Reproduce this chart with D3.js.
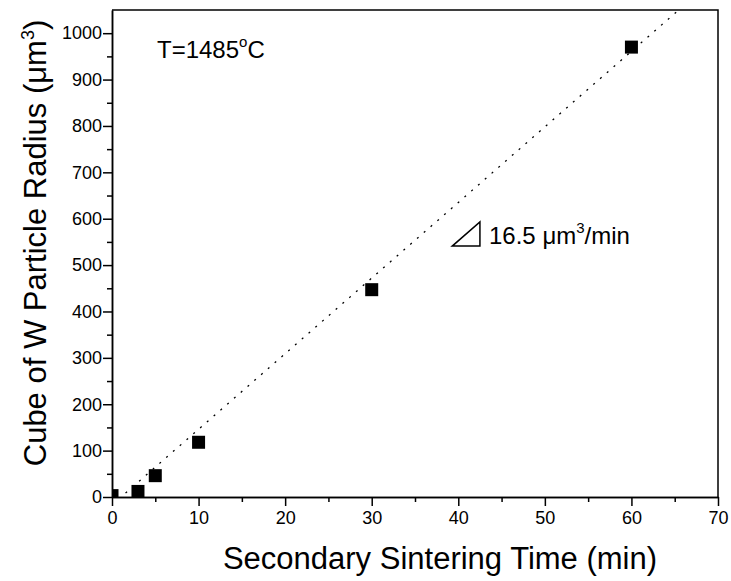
<!DOCTYPE html>
<html>
<head>
<meta charset="utf-8">
<script src="https://cdn.jsdelivr.net/npm/d3@7"></script>
<style>
  body { margin: 0; background: #fff; }
  svg { font-family: Arial, "Liberation Sans", sans-serif; }
</style>
</head>
<body>
<div id="chart"></div>
<script>
// Measured points: sintering time (min) vs cube of W particle radius (um^3)
var times = [0, 3, 5, 10, 30, 60];
var radiusCubed = [3, 12, 46, 118, 447, 970];

// Linear fit drawn as dotted line
var fitSlope = 16.3;
var fitIntercept = -17;

var xTickValues = [0, 10, 20, 30, 40, 50, 60, 70];
var xMinorValues = [5, 15, 25, 35, 45, 55, 65];
var yTickValues = [0, 100, 200, 300, 400, 500, 600, 700, 800, 900, 1000];
var yMinorValues = [50, 150, 250, 350, 450, 550, 650, 750, 850, 950];

var width = 731;
var height = 581;
var margin = {top: 10, right: 13, bottom: 84, left: 112};

var svg = d3.select("#chart")
    .append("svg")
    .attr("width", width)
    .attr("height", height);

var x = d3.scaleLinear()
    .domain([0, 70])
    .range([margin.left, width - margin.right]);

var y = d3.scaleLinear()
    .domain([0, 1050])
    .range([height - margin.bottom, margin.top]);

svg.append("clipPath")
    .attr("id", "plot-clip")
  .append("rect")
    .attr("x", x(0))
    .attr("y", y(1050))
    .attr("width", x(70) - x(0))
    .attr("height", y(0) - y(1050));

var plot = svg.append("g").attr("clip-path", "url(#plot-clip)");

// fit line
plot.append("line")
    .attr("x1", x(0))
    .attr("y1", y(fitIntercept))
    .attr("x2", x(70))
    .attr("y2", y(fitSlope * 70 + fitIntercept))
    .attr("stroke", "#000")
    .attr("stroke-width", 1.3)
    .attr("stroke-dasharray", "2,7");

// square markers
var size = 13;
plot.selectAll("rect.pt")
    .data(times)
    .join("rect")
      .attr("class", "pt")
      .attr("x", d => x(d) - size / 2)
      .attr("y", (d, i) => y(radiusCubed[i]) - size / 2)
      .attr("width", size)
      .attr("height", size)
      .attr("fill", "#000");

// frame (top & right, no ticks)
svg.append("path")
    .attr("d", `M${x(0)},${y(1050)}H${x(70)}V${y(0)}`)
    .attr("fill", "none")
    .attr("stroke", "#000")
    .attr("stroke-width", 1.5);

function styleAxis(g) {
    g.attr("font-family", null);
    g.select(".domain").attr("stroke-width", 1.5);
    g.selectAll(".tick line").attr("stroke-width", 1.5);
    g.selectAll(".tick text").attr("font-size", 18).attr("fill", "#000");
}

svg.append("g")
    .attr("transform", `translate(0,${y(0)})`)
    .call(d3.axisBottom(x).tickValues(xTickValues).tickSize(9).tickSizeOuter(0).tickPadding(5).tickFormat(d3.format("d")))
    .call(styleAxis);

svg.append("g")
    .attr("transform", `translate(0,${y(0)})`)
    .call(d3.axisBottom(x).tickValues(xMinorValues).tickSize(5).tickSizeOuter(0).tickFormat(""))
    .call(styleAxis);

svg.append("g")
    .attr("transform", `translate(${x(0)},0)`)
    .call(d3.axisLeft(y).tickValues(yTickValues).tickSize(9).tickSizeOuter(0).tickPadding(1).tickFormat(d3.format("d")))
    .call(styleAxis);

svg.append("g")
    .attr("transform", `translate(${x(0)},0)`)
    .call(d3.axisLeft(y).tickValues(yMinorValues).tickSize(5).tickSizeOuter(0).tickFormat(""))
    .call(styleAxis);

// axis titles
svg.append("text")
    .attr("x", 440)
    .attr("y", 569)
    .attr("text-anchor", "middle")
    .attr("font-size", 31)
    .text("Secondary Sintering Time (min)");

var yTitle = svg.append("text")
    .attr("transform", `translate(46,243) rotate(-90)`)
    .attr("text-anchor", "middle")
    .attr("font-size", 31);
yTitle.append("tspan").text("Cube of W Particle Radius (\u03bcm");
yTitle.append("tspan").attr("font-size", 18).attr("dy", -12).text("3");
yTitle.append("tspan").attr("dy", 12).text(")");

// temperature label
var tLabel = svg.append("text")
    .attr("x", 157)
    .attr("y", 58)
    .attr("font-size", 24);
tLabel.append("tspan").text("T=1485");
tLabel.append("tspan").attr("font-size", 15).attr("dy", -11).text("o");
tLabel.append("tspan").attr("dy", 11).text("C");

// slope triangle, parallel to the fit line
var triX0 = 39.3, triX1 = 42.5, triY0 = 541;
var triY1 = triY0 + fitSlope * (triX1 - triX0);
svg.append("path")
    .attr("d", `M${x(triX0)},${y(triY0)}L${x(triX1)},${y(triY0)}L${x(triX1)},${y(triY1)}Z`)
    .attr("fill", "none")
    .attr("stroke", "#000")
    .attr("stroke-width", 1.5);

var sLabel = svg.append("text")
    .attr("x", 489)
    .attr("y", 244)
    .attr("font-size", 24);
sLabel.append("tspan").text("16.5 \u03bcm");
sLabel.append("tspan").attr("font-size", 15).attr("dy", -11).text("3");
sLabel.append("tspan").attr("dy", 11).text("/min");
</script>
</body>
</html>
